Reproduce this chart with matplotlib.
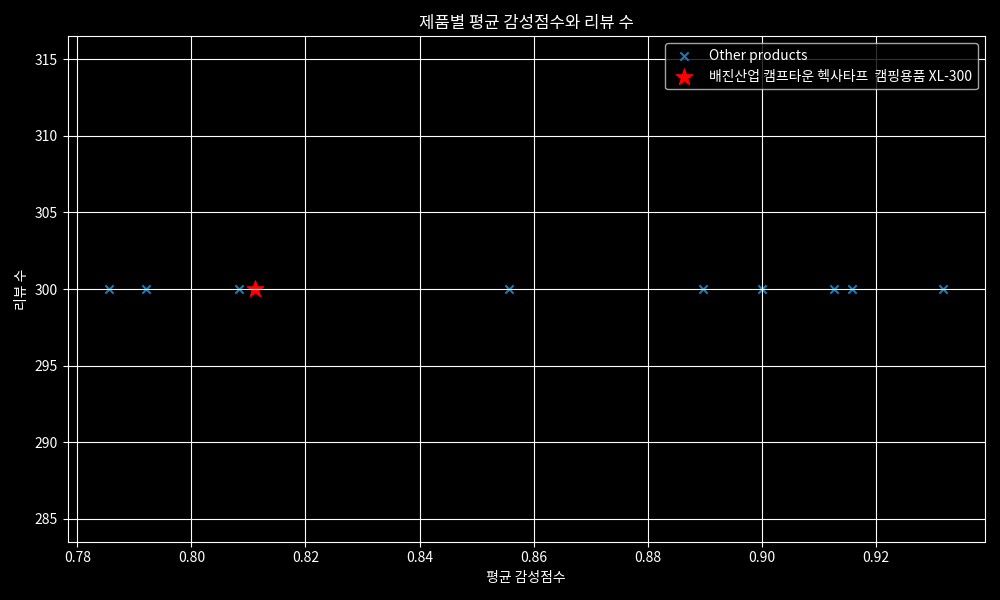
import numpy as np
import matplotlib
matplotlib.use('Agg')
import matplotlib.pyplot as plt

plt.style.use('dark_background')
plt.rcParams['font.family'] = ['Noto Sans CJK KR', 'DejaVu Sans']
plt.rcParams['axes.unicode_minus'] = False

# 다른 제품들
other_scores = [0.7856, 0.7921, 0.8083, 0.8557, 0.8896, 0.9001, 0.9126, 0.9158, 0.9318]
other_reviews = [300, 300, 300, 300, 300, 300, 300, 300, 300]

# 대상 제품
target_name = '배진산업 캠프타운 헥사타프  캠핑용품 XL-300'
target_score = [0.8111]
target_reviews = [300]

fig, ax = plt.subplots(figsize=(10, 6), dpi=100)
ax.scatter(other_scores, other_reviews, marker='x', color='#1f77b4', label='Other products')
ax.scatter(target_score, target_reviews, marker='*', color='red', s=150, label=target_name)
ax.set_title('제품별 평균 감성점수와 리뷰 수')
ax.set_xlabel('평균 감성점수')
ax.set_ylabel('리뷰 수')
ax.legend(loc='upper right')
ax.grid(True)
plt.tight_layout()
plt.savefig('out.png')
